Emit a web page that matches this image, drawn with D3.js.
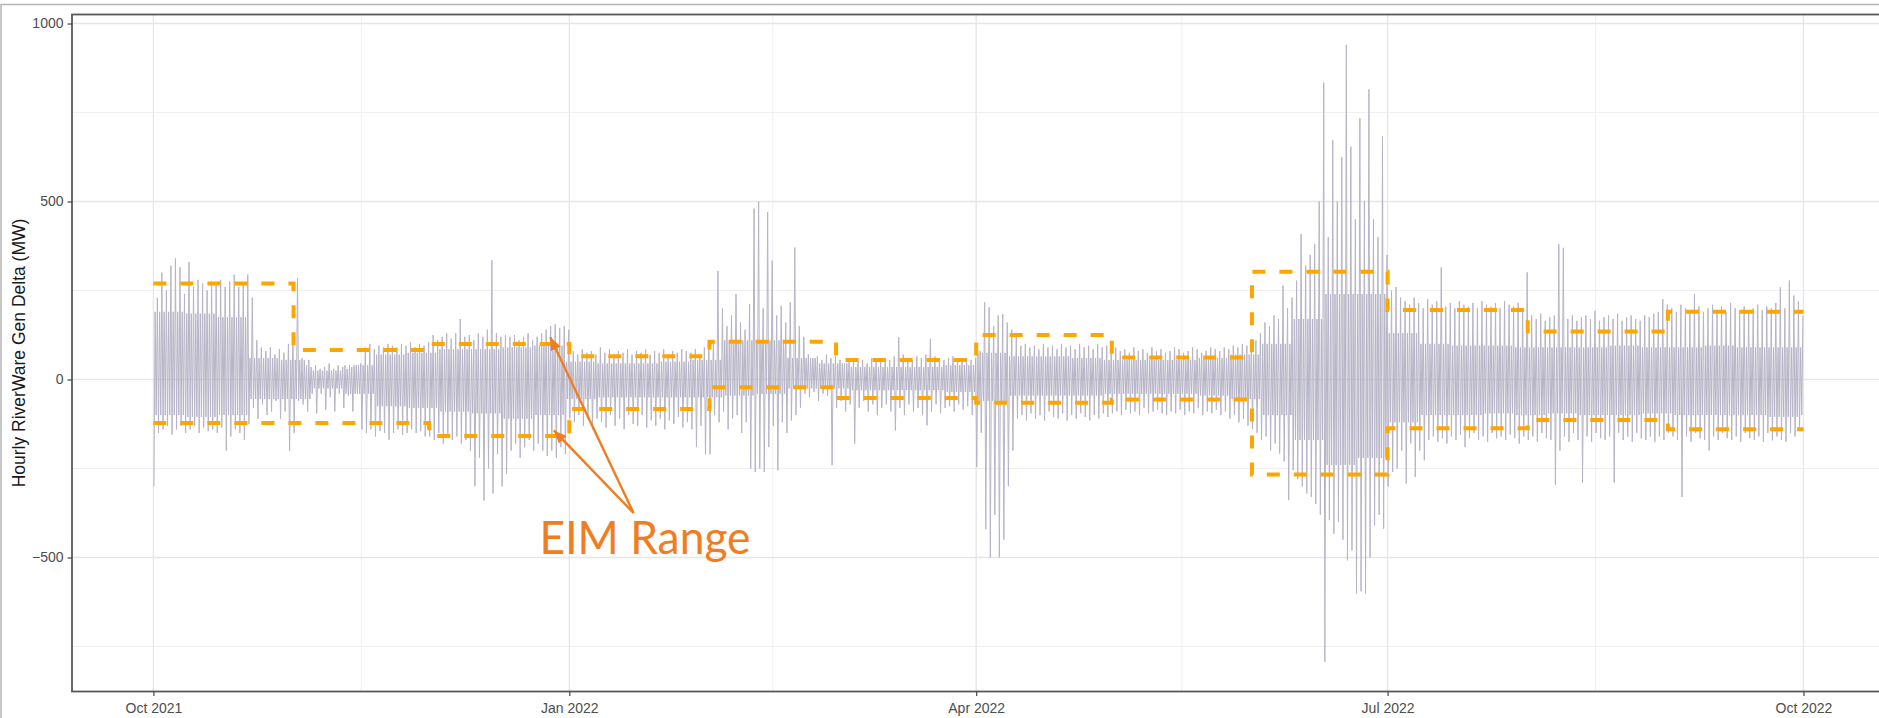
<!DOCTYPE html>
<html>
<head>
<meta charset="utf-8">
<script src="https://cdn.jsdelivr.net/npm/d3@7"></script>
<style>
  html, body { margin: 0; padding: 0; background: #fff; overflow: hidden; }
  svg { display: block; }
</style>
</head>
<body>
<svg id="chart" width="1879" height="718"></svg>
<script>
// Hourly RiverWare generation delta, summarised per day (Oct 2021 - Sep 2022)
const seriesStart = "2021-10-01";
const seriesEnd = "2022-10-01";

// Daily extremes of the hourly delta (MW), one row per month
const dailyHigh = [
  230,300,250,320,340,315,240,330,260,280,270,250,275,270,280,260,275,295,260,270,295,230,110,90,80,90,70,85,75,100,120, // Oct
  285,60,40,35,40,30,35,45,30,40,35,30,35,40,45,90,100,85,95,90,100,95,90,100,95,105,90,100,95,105, // Nov
  125,110,120,130,115,130,170,120,125,110,130,120,140,335,130,120,125,120,125,110,120,130,110,120,130,140,150,155,145,150,140, // Dec
  80,70,85,75,80,70,90,75,85,70,80,75,85,70,80,75,85,70,80,75,85,70,80,75,85,80,75,85,70,90,100, // Jan
  110,305,200,150,180,240,160,140,212,480,500,200,470,334,180,207,160,217,371,150,120,70,60,65,55,70,60,65, // Feb
  55,45,50,60,50,55,45,60,55,50,60,55,65,119,70,60,55,65,60,70,114,65,60,55,60,65,60,55,60,55,60, // Mar
  80,217,203,150,180,184,160,140,120,95,100,90,95,85,100,90,95,85,100,90,95,85,100,90,95,85,100,90,95,85, // Apr
  90,80,85,75,90,80,85,75,90,80,85,75,80,90,85,75,80,90,85,75,80,90,85,80,90,85,95,90,100,95,100, // May
  110,130,160,150,180,170,264,200,230,278,409,320,350,380,500,834,400,672,500,624,940,654,450,734,502,815,450,400,684,350, // Jun
  250,260,230,220,210,230,215,200,225,210,220,315,205,215,200,220,210,205,215,200,220,210,205,215,200,220,210,205,215,200,301, // Jul
  180,170,185,165,175,180,380,370,170,180,165,175,180,170,193,165,175,180,170,185,165,175,180,170,165,180,175,185,190,226,210, // Aug
  200,190,210,200,195,240,205,190,200,210,195,205,190,215,200,195,205,190,200,210,195,205,200,215,259,200,278,236,220,180  // Sep
];
const dailyLow = [
  -300,-150,-140,-130,-155,-140,-130,-150,-140,-130,-150,-135,-145,-140,-150,-135,-200,-160,-140,-150,-170,-125,-80,-110,-70,-100,-90,-60,-110,-90,-200, // Oct
  -150,-60,-70,-90,-40,-95,-40,-85,-50,-90,-40,-80,-45,-90,-40,-140,-150,-140,-160,-145,-150,-170,-150,-140,-155,-150,-140,-150,-145,-160, // Nov
  -160,-170,-150,-180,-160,-170,-160,-180,-170,-200,-300,-220,-340,-250,-320,-210,-300,-265,-200,-180,-220,-190,-170,-200,-180,-200,-215,-200,-220,-190,-210, // Dec
  -110,-120,-100,-130,-110,-140,-110,-120,-135,-100,-130,-110,-140,-100,-125,-130,-100,-135,-115,-130,-110,-140,-115,-125,-105,-135,-120,-140,-190,-130,-210, // Jan
  -210,-100,-120,-90,-140,-110,-100,-150,-120,-250,-260,-250,-260,-190,-130,-255,-120,-150,-115,-100,-80,-40,-50,-35,-60,-40,-45,-241, // Feb
  -80,-60,-90,-70,-180,-80,-60,-90,-70,-100,-80,-70,-90,-143,-80,-100,-70,-90,-80,-100,-129,-90,-70,-95,-80,-75,-90,-70,-85,-75,-100, // Mar
  -246,-150,-420,-500,-380,-500,-450,-300,-200,-110,-100,-115,-95,-110,-100,-115,-90,-105,-110,-95,-115,-100,-110,-95,-105,-115,-100,-110,-95,-105, // Apr
  -95,-90,-100,-85,-95,-90,-100,-80,-95,-90,-85,-95,-100,-90,-95,-85,-100,-90,-95,-80,-100,-90,-95,-85,-100,-90,-110,-100,-120,-110,-130, // May
  -140,-150,-170,-160,-200,-180,-208,-230,-339,-255,-280,-300,-320,-330,-350,-380,-793,-395,-433,-400,-450,-508,-480,-601,-595,-601,-500,-410,-380,-419, // Jun
  -300,-260,-250,-200,-292,-180,-274,-200,-227,-170,-160,-175,-165,-180,-160,-170,-155,-190,-165,-150,-170,-160,-175,-150,-165,-160,-170,-155,-165,-180,-160, // Jul
  -170,-160,-175,-150,-165,-170,-296,-200,-160,-175,-150,-170,-290,-160,-175,-150,-165,-170,-160,-290,-150,-170,-160,-175,-150,-165,-170,-160,-175,-160,-170, // Aug
  -150,-160,-170,-330,-160,-175,-150,-165,-170,-199,-160,-170,-150,-165,-170,-160,-175,-150,-165,-170,-160,-175,-150,-171,-160,-170,-175,-150,-160,-140  // Sep
];

// Weekly range holding most of the hourly values (MW), weeks starting 2021-10-01
const bandHigh = [190,185,175,60,55,25,40,70,75,85,85,90,95,50,45,45,50,55,110,110,60,45,35,35,35,40,75,65,65,60,55,55,55,60,70,100,170,240,240,130,100,95,95,90,90,90,95,90,90,95,90,90,90];
const bandLow  = [-100,-105,-100,-55,-55,-25,-40,-75,-80,-90,-95,-110,-100,-55,-50,-50,-50,-50,-45,-40,-25,-25,-30,-30,-30,-35,-60,-45,-45,-45,-40,-40,-40,-45,-55,-100,-170,-240,-220,-120,-100,-100,-95,-100,-95,-100,-100,-95,-100,-100,-100,-105,-100];

// Monthly EIM range bounds (MW)
const eimMonths = ["2021-10-01","2021-11-01","2021-12-01","2022-01-01","2022-02-01","2022-03-01","2022-04-01","2022-05-01","2022-06-01","2022-07-01","2022-08-01","2022-09-01"];
const eimUpper = [270, 83, 100, 65, 106, 55, 125, 62, 303, 195, 135, 190];
const eimLower = [-122, -122, -159, -83, -22, -52, -65, -56, -267, -137, -114, -140];

// Axis breaks
const xTickDates = ["2021-10-01","2022-01-01","2022-04-01","2022-07-01","2022-10-01"];
const yTicks = [-500, 0, 500, 1000];
const yMinorTicks = [-750, -250, 250, 750];

const yTitle = "Hourly RiverWare Gen Delta (MW)";
const noteText = "EIM Range";
// arrow tail and the two points it marks on the EIM band (date, MW)
const noteTail = ["2022-01-15T05:00", -375];
const noteTargets = [["2021-12-27T19:00", 119], ["2021-12-28T14:00", -143]];

// ---------------------------------------------------------------
const W = 1879, H = 718;
const panel = { left: 72, top: 14.5, right: 1886, bottom: 691.5 };
const parse = d3.utcParse("%Y-%m-%d");
const parseHour = d3.utcParse("%Y-%m-%dT%H:%M");
const DAY = 864e5;
const t0 = parse(seriesStart);

const x = d3.scaleUtc()
  .domain([parse(seriesStart), parse(seriesEnd)])
  .range([153.4, 1803.5]);
const y = d3.scaleLinear()
  .domain([-876.4, 1025.3])
  .range([panel.bottom, panel.top]);

const svg = d3.select("#chart");
const font = "'Liberation Sans', Arial, Helvetica, sans-serif";

// outer frame
svg.append("rect")
  .attr("x", 1).attr("y", 4.5).attr("width", W + 20).attr("height", H + 20)
  .attr("fill", "#fff").attr("stroke", "#b4b4b4").attr("stroke-width", 1.5);

const defs = svg.append("defs");
defs.append("clipPath").attr("id", "panel-clip")
  .append("rect")
  .attr("x", panel.left).attr("y", panel.top)
  .attr("width", panel.right - panel.left).attr("height", panel.bottom - panel.top);

// grid
const grid = svg.append("g");
const xMajor = xTickDates.map(parse);
const xMinor = d3.pairs(xMajor).map(([a, b]) => new Date((+a + +b) / 2));

grid.selectAll("line.ymin").data(yMinorTicks).join("line")
  .attr("x1", panel.left).attr("x2", panel.right)
  .attr("y1", d => y(d)).attr("y2", d => y(d))
  .attr("stroke", "#f0f0f0").attr("stroke-width", 1);
grid.selectAll("line.xmin").data(xMinor).join("line")
  .attr("y1", panel.top).attr("y2", panel.bottom)
  .attr("x1", d => x(d)).attr("x2", d => x(d))
  .attr("stroke", "#f0f0f0").attr("stroke-width", 1);
grid.selectAll("line.ymaj").data(yTicks).join("line")
  .attr("x1", panel.left).attr("x2", panel.right)
  .attr("y1", d => y(d)).attr("y2", d => y(d))
  .attr("stroke", "#e6e6e6").attr("stroke-width", 1.3);
grid.selectAll("line.xmaj").data(xMajor).join("line")
  .attr("y1", panel.top).attr("y2", panel.bottom)
  .attr("x1", d => x(d)).attr("x2", d => x(d))
  .attr("stroke", "#e6e6e6").attr("stroke-width", 1.3);

const plot = svg.append("g").attr("clip-path", "url(#panel-clip)");

// hourly swings per day: daily low, weekly band top, weekly band bottom, daily high
const swings = [];
dailyHigh.forEach((h, i) => {
  const w = Math.floor(i / 7);
  swings.push({ t: new Date(+t0 + (i + 0.125) * DAY), v: dailyLow[i] });
  swings.push({ t: new Date(+t0 + (i + 0.375) * DAY), v: bandHigh[w] });
  swings.push({ t: new Date(+t0 + (i + 0.625) * DAY), v: bandLow[w] });
  swings.push({ t: new Date(+t0 + (i + 0.875) * DAY), v: h });
});
plot.append("path")
  .datum(swings)
  .attr("fill", "none")
  .attr("stroke", "#b6b4c6")
  .attr("stroke-width", 1)
  .attr("d", d3.line().x(d => x(d.t)).y(d => y(d.v)));

// EIM range steps
const stepLine = d3.line().curve(d3.curveStepAfter).x(d => x(d.t)).y(d => y(d.v));
[eimUpper, eimLower].forEach(vals => {
  const pts = eimMonths.map((m, i) => ({ t: parse(m), v: vals[i] }));
  pts.push({ t: parse(seriesEnd), v: vals[vals.length - 1] });
  plot.append("path")
    .datum(pts)
    .attr("fill", "none")
    .attr("stroke", "#ffa500")
    .attr("stroke-width", 4)
    .attr("stroke-dasharray", "13 14")
    .attr("d", stepLine);
});

// panel border
svg.append("rect")
  .attr("x", panel.left).attr("y", panel.top)
  .attr("width", panel.right - panel.left).attr("height", panel.bottom - panel.top)
  .attr("fill", "none").attr("stroke", "#595959").attr("stroke-width", 1.8);

// axes
const yAxis = svg.append("g")
  .attr("transform", `translate(${panel.left},0)`)
  .call(d3.axisLeft(y).tickValues(yTicks).tickSize(4.5).tickPadding(4).tickFormat(d3.format("d")));
const xAxis = svg.append("g")
  .attr("transform", `translate(0,${panel.bottom})`)
  .call(d3.axisBottom(x).tickValues(xMajor).tickSize(4.5).tickPadding(7).tickFormat(d3.utcFormat("%b %Y")));
[xAxis, yAxis].forEach(g => {
  g.select(".domain").remove();
  g.selectAll(".tick line").attr("stroke", "#444").attr("stroke-width", 1.2);
  g.selectAll(".tick text").attr("fill", "#4d4d4d").style("font-size", "14px").style("font-family", font);
});

svg.append("text")
  .attr("transform", `translate(24.5,${(panel.top + panel.bottom) / 2}) rotate(-90)`)
  .attr("text-anchor", "middle")
  .style("font-family", font).style("font-size", "17.5px")
  .attr("fill", "#1a1a1a")
  .text(yTitle);

// annotation
const noteColor = "#f07d22";
defs.append("marker")
  .attr("id", "arrowhead")
  .attr("viewBox", "0 0 12 10")
  .attr("refX", 12).attr("refY", 5)
  .attr("markerUnits", "userSpaceOnUse")
  .attr("markerWidth", 13).attr("markerHeight", 11)
  .attr("orient", "auto")
  .append("path").attr("d", "M0,0 L12,5 L0,10 Z").attr("fill", noteColor);

const tailX = x(parseHour(noteTail[0])), tailY = y(noteTail[1]);
noteTargets.forEach(([d, v]) => {
  svg.append("line")
    .attr("x1", tailX).attr("y1", tailY)
    .attr("x2", x(parseHour(d))).attr("y2", y(v))
    .attr("stroke", noteColor).attr("stroke-width", 2.4)
    .attr("marker-end", "url(#arrowhead)");
});

svg.append("text")
  .attr("x", tailX - 94).attr("y", tailY + 41)
  .attr("textLength", 211).attr("lengthAdjust", "spacingAndGlyphs")
  .style("font-family", "Lato, 'Open Sans', sans-serif")
  .style("font-size", "47px")
  .attr("fill", noteColor)
  .text(noteText);
</script>
</body>
</html>
